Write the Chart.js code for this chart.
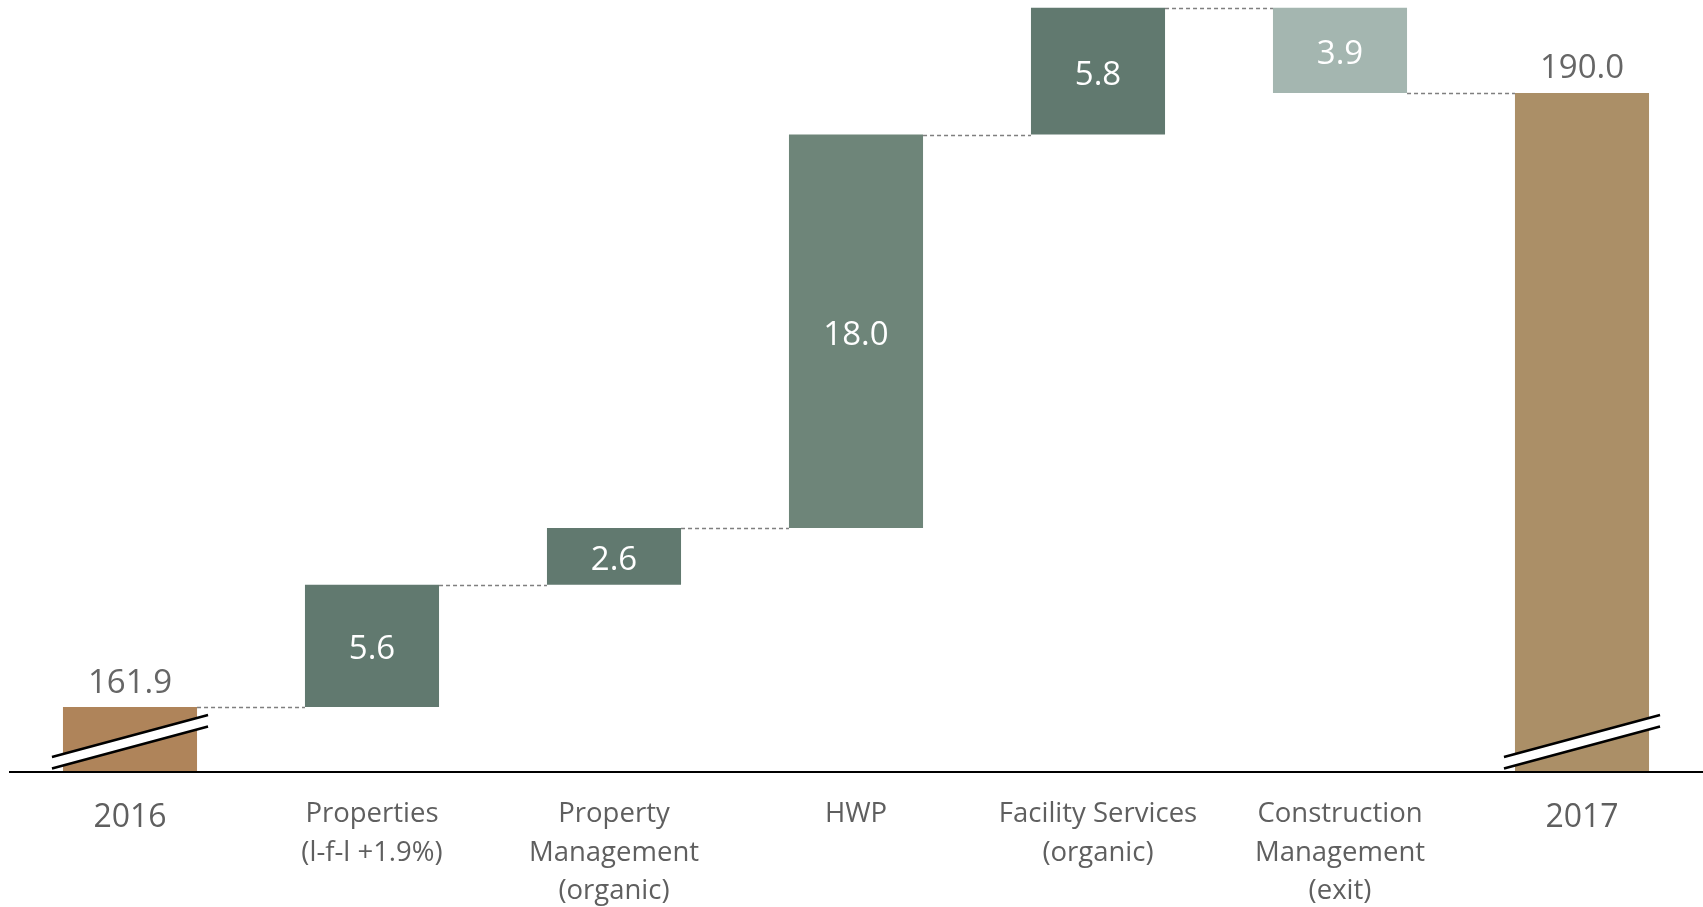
<!DOCTYPE html>
<html>
<head>
<meta charset="utf-8">
<script src="https://cdn.jsdelivr.net/npm/chart.js@4"></script>
<style>
  html, body { margin: 0; padding: 0; background: #fff; }
  #wrap { width: 1703px; height: 907px; position: relative; }
</style>
</head>
<body>
<div id="wrap"><canvas id="waterfall"></canvas></div>
<script>
const categories = [
    '2016',
    ['Properties', '(l-f-l +1.9%)'],
    ['Property', 'Management', '(organic)'],
    'HWP',
    ['Facility Services', '(organic)'],
    ['Construction', 'Management', '(exit)'],
    '2017'
];
const startTotal = 161.9;
const changes = [5.6, 2.6, 18.0, 5.8, -3.9];
const endTotal = 190.0;
const barColors = ['#AF845A', '#61796F', '#61796F', '#6E8579', '#61796F', '#A4B6B0', '#AB8F67'];
// value range of the broken y axis
const axisMin = 158.93;
const axisMax = 194.26;

// build floating bars and running levels
const ranges = [[axisMin, startTotal]];
const levels = [startTotal];
let run = startTotal;
changes.forEach(c => {
    ranges.push([run, run + c]);
    run += c;
    levels.push(run);
});
ranges.push([axisMin, endTotal]);
levels.push(endTotal);
const shown = [startTotal, ...changes, endTotal];

const font = 'Open Sans';

const waterfallDecor = {
    id: 'waterfallDecor',
    afterDatasetsDraw(chart) {
        const { ctx, chartArea, scales: { y } } = chart;
        const bars = chart.getDatasetMeta(0).data;
        ctx.save();

        // dashed connectors
        ctx.strokeStyle = '#7f7f7f';
        ctx.lineWidth = 1.3;
        ctx.setLineDash([4, 3]);
        for (let i = 0; i < bars.length - 1; i++) {
            const yy = Math.round(y.getPixelForValue(levels[i])) + 0.5;
            ctx.beginPath();
            ctx.moveTo(bars[i].x + bars[i].width / 2, yy);
            ctx.lineTo(bars[i + 1].x - bars[i + 1].width / 2, yy);
            ctx.stroke();
        }
        ctx.setLineDash([]);

        // value labels
        ctx.textAlign = 'center';
        ctx.textBaseline = 'middle';
        ctx.font = '33px "' + font + '"';
        bars.forEach((b, i) => {
            const txt = Math.abs(shown[i]).toFixed(1);
            if (i === 0 || i === bars.length - 1) {
                ctx.fillStyle = '#666666';
                ctx.fillText(txt, b.x, Math.min(b.y, b.base) - 24);
            } else {
                ctx.fillStyle = '#ffffff';
                ctx.fillText(txt, b.x, (b.y + b.base) / 2 + 4);
            }
        });

        // axis break marks on the totals
        const bottom = chartArea.bottom;
        [0, bars.length - 1].forEach(i => {
            const b = bars[i];
            const half = b.width / 2 + 11;
            const x0 = b.x - half, x1 = b.x + half;
            ctx.fillStyle = '#ffffff';
            ctx.beginPath();
            ctx.moveTo(x0, bottom - 15);
            ctx.lineTo(x1, bottom - 57);
            ctx.lineTo(x1, bottom - 45.5);
            ctx.lineTo(x0, bottom - 3.5);
            ctx.closePath();
            ctx.fill();
            ctx.strokeStyle = '#000000';
            ctx.lineWidth = 2.5;
            ctx.beginPath();
            ctx.moveTo(x0, bottom - 15);
            ctx.lineTo(x1, bottom - 57);
            ctx.moveTo(x0, bottom - 3.5);
            ctx.lineTo(x1, bottom - 45.5);
            ctx.stroke();
        });

        // baseline
        ctx.strokeStyle = '#000000';
        ctx.lineWidth = 2;
        ctx.beginPath();
        ctx.moveTo(chartArea.left, bottom);
        ctx.lineTo(chartArea.right, bottom);
        ctx.stroke();
        ctx.restore();
    }
};

new Chart(document.getElementById('waterfall').getContext('2d'), {
    type: 'bar',
    data: {
        labels: categories,
        datasets: [{
            data: ranges,
            backgroundColor: barColors,
            borderWidth: 0,
            barPercentage: 0.554,
            categoryPercentage: 1.0
        }]
    },
    options: {
        responsive: true,
        maintainAspectRatio: false,
        animation: false,
        layout: { padding: { left: 9, right: 0, top: 0, bottom: 0 } },
        plugins: {
            legend: { display: false },
            tooltip: { enabled: false }
        },
        scales: {
            x: {
                grid: { display: false, drawTicks: false },
                border: { display: false },
                ticks: {
                    color: '#5f5f5f',
                    padding: 23,
                    maxRotation: 0,
                    autoSkip: false,
                    font: (c) => {
                        const big = c.index === 0 || c.index === categories.length - 1;
                        return { family: font, size: big ? 32 : 27.5, lineHeight: big ? 1.45 : 1.4 };
                    }
                },
                afterFit: (s) => { s.height = 135; }
            },
            y: {
                display: false,
                min: axisMin,
                max: axisMax
            }
        }
    },
    plugins: [waterfallDecor]
});
</script>
</body>
</html>
